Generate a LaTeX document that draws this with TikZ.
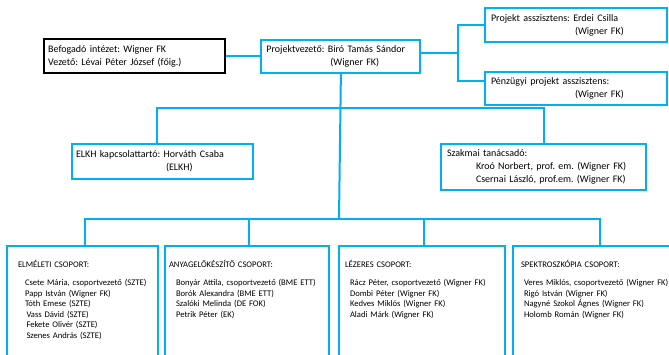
\documentclass[tikz,border=0pt]{standalone}
\usepackage{fontspec}
\setmainfont{Carlito}
\usepackage{xcolor}
\definecolor{orgblue}{HTML}{00B0F0}
\usetikzlibrary{positioning}
\frenchspacing

\begin{document}
\begin{tikzpicture}[x=1pt, y=-1pt]
    % Define styles
    \tikzstyle{unit} = [rectangle, draw=orgblue, line width=2pt, anchor=north west, align=left, inner sep=0pt, font=\fontsize{10}{13}\selectfont]
    \tikzstyle{host} = [unit, draw=black, line width=2.4pt]
    \tikzstyle{group} = [unit, text height=21pt, text depth=120pt, font=\fontsize{8.6}{10.5}\selectfont]
    \tikzstyle{link} = [draw=orgblue, line width=2pt]

    \useasboundingbox (0,0) rectangle (669,354);
    \clip (0,0) rectangle (669,354);

    % Host institute and project leader
    \node [host, minimum width=181pt, minimum height=34pt, text width=173pt] (host) at (43,38) {Befogadó intézet: Wigner FK\\Vezető: Lévai Péter József (főig.)};
    \node [unit, right=34pt of host, minimum width=159pt, minimum height=33pt, text width=149pt] (lead) {Projektvezető: Biró Tamás Sándor\\\hspace*{64pt}(Wigner FK)};

    % Assistants
    \node [unit, minimum width=182pt, minimum height=34pt, text width=170pt] (asst) at (484,7) {Projekt asszisztens: Erdei Csilla\\\hspace*{84pt}(Wigner FK)};
    \node [unit, below=28pt of asst.south west, anchor=north west, minimum width=182pt, minimum height=33pt, text width=170pt] (fin) {Pénzügyi projekt asszisztens:\\\hspace*{84pt}(Wigner FK)};

    % Contact and advisors
    \node [unit, minimum width=181pt, minimum height=35pt, text width=173pt] (elkh) at (71,143) {ELKH kapcsolattartó: Horváth Csaba\\\hspace*{90pt}(ELKH)};
    \node [unit, minimum width=205pt, minimum height=46pt, text width=193pt] (advisor) at (440,143) {Szakmai tanácsadó:\\\hspace*{29pt}Kroó Norbert, prof. em. (Wigner FK)\\\hspace*{29pt}Csernai László, prof.em. (Wigner FK)};

    % Research groups
    \node [group, text width=151pt] (elm) at (6,245) {\hspace*{11pt}ELMÉLETI CSOPORT:\\[8pt]%
        \hspace*{18pt}Csete Mária, csoportvezető (SZTE)\\
        \hspace*{18pt}Papp István (Wigner FK)\\
        \hspace*{18pt}Tóth Emese (SZTE)\\
        \hspace*{19.5pt}Vass Dávid (SZTE)\\
        \hspace*{19.5pt}Fekete Olivér (SZTE)\\
        \hspace*{19.5pt}Szenes András (SZTE)};
    \node [group, right=5pt of elm.north east, anchor=north west, text width=164pt] (anyag) {\hspace*{4pt}ANYAGELŐKÉSZÍTŐ CSOPORT:\\[8pt]%
        \hspace*{11pt}Bonyár Attila, csoportvezető (BME ETT)\\
        \hspace*{11pt}Borók Alexandra (BME ETT)\\
        \hspace*{11pt}Szalóki Melinda (DE FOK)\\
        \hspace*{11pt}Petrik Péter (EK)};
    \node [group, right=8pt of anyag.north east, anchor=north west, text width=166pt] (laser) {\hspace*{6pt}LÉZERES CSOPORT:\\[8pt]%
        \hspace*{11pt}Rácz Péter, csoportvezető (Wigner FK)\\
        \hspace*{11pt}Dombi Péter (Wigner FK)\\
        \hspace*{11pt}Kedves Miklós (Wigner FK)\\
        \hspace*{11pt}Aladi Márk (Wigner FK)};
    \node [group, right=6pt of laser.north east, anchor=north west, text width=161pt] (spec) {\hspace*{8pt}SPEKTROSZKÓPIA CSOPORT:\\[8pt]%
        \hspace*{11pt}Veres Miklós, csoportvezető (Wigner FK)\\
        \hspace*{11pt}Rigó István (Wigner FK)\\
        \hspace*{11pt}Nagyné Szokol Ágnes (Wigner FK)\\
        \hspace*{11pt}Holomb Román (Wigner FK)};

    % Bus points
    \coordinate (rbus) at (458,51);
    \coordinate (ubus) at (339,108);
    \coordinate (lbus) at (339,219);

    % Lines
    \draw [link] (host.east) -- (host.east -| lead.west);
    \draw [link] ([yshift=3pt]lead.east) -- ([yshift=3pt]lead.east -| rbus);
    \draw [link] (asst.west) -| (rbus) |- ([yshift=8pt]fin.west);
    \draw [link] (lead.south) -- (lbus);
    \draw [link] ([xshift=-6pt]elkh.north) |- (ubus) -| (advisor.north);
    \draw [link] ([xshift=2pt]elm.north) |- (lbus) -| ([xshift=6pt]spec.north);
    \draw [link] ([xshift=2pt]anyag.north) -- ([xshift=2pt]anyag.north |- lbus);
    \draw [link] ([xshift=2pt]laser.north) -- ([xshift=2pt]laser.north |- lbus);
\end{tikzpicture}
\end{document}
